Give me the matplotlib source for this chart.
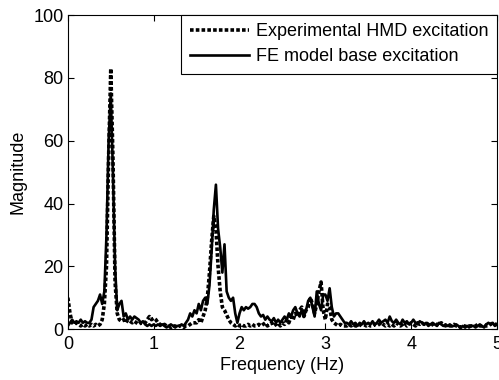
import numpy as np
import matplotlib.pyplot as plt

plt.rcParams['font.family'] = ['Liberation Sans', 'DejaVu Sans']

# frequency grid (Hz), 0.025 Hz step
freq = np.linspace(0, 5, 201)

# experimental HMD excitation (dotted)
exp_hmd = [
    10, 5, 2, 1.5, 2, 1.5, 1, 1.5, 1, 1.5,
    1, 1.5, 1, 1.5, 1, 1.5, 3, 8, 20, 55,
    83, 55, 15, 5, 3, 2.5, 3, 2, 3, 2.5,
    2, 2.5, 2, 1.5, 2, 1.5, 2, 3, 4, 3,
    3.5, 3, 2, 1.5, 1, 1.5, 1, 1, 0.5, 1,
    1, 0.5, 1, 1, 0.5, 1, 1, 1.5, 2, 2,
    2, 3, 2, 4, 6, 10, 18, 28, 36, 32,
    20, 12, 7, 6, 4.5, 3, 2, 1.5, 1, 1.5,
    1, 1.5, 1, 1, 1.5, 1, 1.5, 1, 1, 1.5,
    1, 1.5, 2, 1, 1.5, 2, 1, 1.5, 2, 1,
    2, 1.5, 3, 2, 4, 3, 5, 4, 6, 7,
    4, 6, 7, 10, 8, 5, 8, 12, 15, 6,
    3, 8, 7, 3, 2, 1.5, 1, 1.5, 1, 1,
    1, 1.5, 1, 1.5, 1, 1, 1.5, 1, 1.5, 1,
    1.5, 1, 1, 1.5, 1, 1.5, 2, 1.5, 1, 1.5,
    1, 1.5, 1, 2, 1.5, 1, 1.5, 2, 1, 1.5,
    2, 1.5, 1, 2, 1.5, 2, 1.5, 2, 1.5, 1,
    1.5, 2, 1.5, 1, 2, 1.5, 1, 1.5, 1, 1,
    1.5, 1, 1, 0.5, 1, 1, 0.5, 1, 1, 1,
    1, 1.5, 1, 1, 1.5, 1, 1, 1.5, 2, 1.5,
    1.5,
]

# FE model base excitation (solid)
fe_base = [
    1, 2, 3, 2, 2.5, 2, 3, 2, 2.5, 2,
    2, 3, 7, 8, 9, 11, 8, 12, 30, 60,
    75, 50, 20, 6, 8, 9, 4, 5, 3, 4,
    3, 4, 3.5, 3, 2, 2.5, 1.5, 1, 1.5, 1,
    1.5, 1, 1.5, 1, 1.5, 1, 0.5, 1, 1.5, 1,
    0.5, 1, 1, 1.5, 1, 2, 3, 5, 4, 6,
    5, 8, 6, 9, 10, 8, 14, 25, 38, 46,
    32, 26, 18, 27, 12, 10, 9, 10, 5, 2,
    5, 7, 6, 7, 6.5, 7, 8, 8, 7, 5,
    4, 4.5, 3, 4, 3, 2.5, 3.5, 2, 3, 2,
    3, 4, 3, 5, 4, 6, 7, 5, 4, 6,
    4, 6, 9, 10, 7, 4, 12, 8, 6, 11,
    11, 9, 13, 7, 4, 5, 5, 4, 3, 2,
    2, 1.5, 2.5, 1.5, 2, 1, 2, 1.5, 2.5, 1.5,
    2, 1.5, 2.5, 1.5, 2, 3, 2, 2.5, 3, 2,
    4, 2.5, 2, 3, 2, 1.5, 3, 2, 2.5, 1.5,
    2, 3, 2, 1.5, 2.5, 2, 1.5, 2, 1, 1.5,
    2, 1.5, 1, 2, 1.5, 1, 1.5, 1, 1.5, 1,
    1, 1.5, 1, 0.5, 1, 0.5, 1, 0.5, 1, 1,
    0.5, 1, 1.5, 1, 0.5, 1.5, 2, 1.5, 2, 1,
    1.5,
]

fig = plt.figure(figsize=(4.99, 3.80), dpi=100)
ax = fig.add_axes([0.136, 0.134, 0.86, 0.826])

ax.plot(freq, exp_hmd, color='black', linestyle=(0, (1, 0.6)), linewidth=2.6,
        label='Experimental HMD excitation')
ax.plot(freq, fe_base, color='black', linestyle='-', linewidth=1.9,
        label='FE model base excitation')

ax.set_xlim(0, 5)
ax.set_ylim(0, 100)
ax.set_xticks([0, 1, 2, 3, 4, 5])
ax.set_yticks([0, 20, 40, 60, 80, 100])
ax.tick_params(direction='in', top=True, right=True, labelsize=13, length=4)
ax.tick_params(axis='x', pad=5)
ax.tick_params(axis='y', pad=3)
for s in ax.spines.values():
    s.set_linewidth(0.8)

ax.set_xlabel('Frequency (Hz)', fontsize=13, labelpad=3)
ax.set_ylabel('Magnitude', fontsize=13, labelpad=5)

leg = ax.legend(loc='upper right', fontsize=13, handlelength=3.3,
                handletextpad=0.4, borderaxespad=0, fancybox=False,
                framealpha=1, edgecolor='black', borderpad=0.45,
                labelspacing=0.45)
leg.get_frame().set_linewidth(0.8)

fig.savefig('out.png', dpi=100)
